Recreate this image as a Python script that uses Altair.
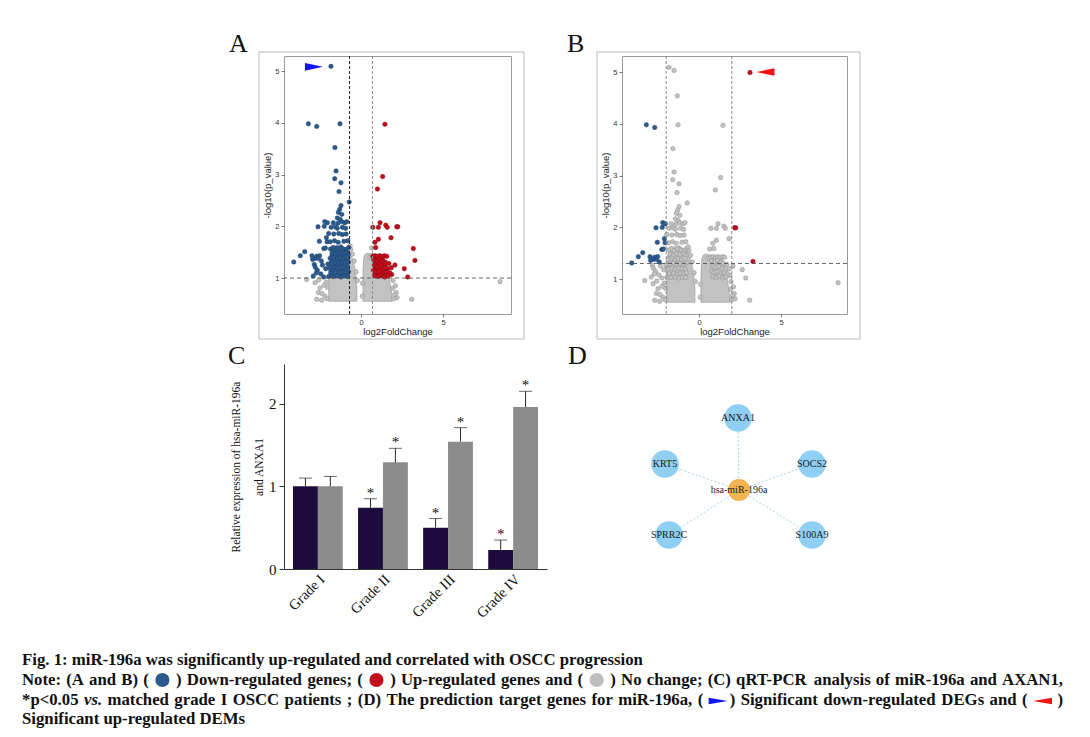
import altair as alt
import pandas as pd

SERIF = "Liberation Serif"
SANS = "Liberation Sans"

# ---------------- Panels A/B: volcano plot data (log2FC, -log10 p) ----------------
volcano_points = [
    (-1.83, 5.09), (-3.21, 3.98), (-2.70, 3.93), (-1.28, 3.98), (-1.59, 3.52), (-1.52, 3.07),
    (-1.60, 2.92), (-1.22, 2.84), (-1.34, 2.67), (-0.72, 2.47),
    (-1.22, 2.40), (-1.30, 2.33), (-1.38, 2.27), (-1.17, 2.23), (-1.44, 2.16), (-1.26, 2.13),
    (-2.21, 2.09), (-2.05, 2.07), (-1.69, 2.07), (-1.40, 2.06), (-1.18, 2.09), (-0.99, 2.07), (-0.86, 2.09),
    (-2.62, 1.99), (-2.24, 2.00), (-1.82, 1.98), (-1.56, 1.99), (-1.45, 1.96), (-1.13, 1.98), (-0.94, 1.96),
    (-2.11, 1.78), (-1.97, 1.86), (-1.66, 1.85), (-1.36, 1.86), (-1.14, 1.84), (-0.91, 1.85),
    (-2.54, 1.71), (-2.07, 1.70), (-1.88, 1.70), (-1.62, 1.72), (-1.39, 1.69), (-1.04, 1.71), (-0.80, 1.72),
    (-2.27, 1.57), (-2.17, 1.58), (-1.86, 1.56), (-1.70, 1.59), (-1.50, 1.55), (-1.30, 1.58), (-1.10, 1.56),
    (-0.90, 1.55), (-0.76, 1.59),
    (-3.43, 1.51), (-3.70, 1.43), (-2.99, 1.43), (-2.70, 1.42), (-2.52, 1.43), (-2.79, 1.38), (-2.62, 1.38),
    (-2.95, 1.36), (-2.42, 1.33), (-4.10, 1.31),
    (-2.85, 1.26), (-2.79, 1.21), (-2.66, 1.15), (-2.72, 1.10), (-2.91, 1.04), (-2.27, 1.02), (-2.35, 1.25),
    (-2.15, 1.18), (-2.45, 1.08), (-2.02, 1.27),
    (-1.75, 1.48), (-1.56, 1.46), (-1.37, 1.49), (-1.16, 1.47), (-0.96, 1.49), (-0.79, 1.46),
    (-1.88, 1.38), (-1.66, 1.40), (-1.46, 1.37), (-1.26, 1.39), (-1.06, 1.38), (-0.86, 1.40),
    (-1.77, 1.29), (-1.55, 1.31), (-1.35, 1.28), (-1.15, 1.30), (-0.95, 1.29), (-0.77, 1.31),
    (-1.92, 1.20), (-1.66, 1.21), (-1.45, 1.19), (-1.24, 1.21), (-1.04, 1.20), (-0.84, 1.19),
    (-1.81, 1.10), (-1.56, 1.11), (-1.34, 1.09), (-1.14, 1.11), (-0.94, 1.10), (-0.76, 1.12),
    (-1.97, 1.03), (-1.70, 1.03), (-1.45, 1.04), (-1.22, 1.02), (-1.02, 1.04), (-0.82, 1.03),
    (-3.31, 0.97), (-2.80, 0.91), (-2.60, 0.72), (-2.50, 0.81), (-2.70, 0.59), (-2.40, 0.57), (-2.20, 0.65),
    (-2.05, 0.82), (-2.12, 0.92), (-2.38, 0.70), (-2.58, 0.96), (-2.25, 0.86), (-2.08, 0.60),
    (-0.62, 1.55), (-0.52, 1.46), (-0.41, 1.33), (-0.66, 1.62), (-0.30, 1.12), (-0.22, 0.95),
    (1.46, 3.97), (1.32, 2.96), (1.00, 2.72),
    (1.16, 2.07), (0.72, 1.98), (1.06, 1.98), (1.51, 2.02), (1.60, 1.98), (2.18, 1.99), (2.24, 1.99),
    (1.83, 1.78), (1.06, 1.75), (0.85, 1.69), (0.90, 1.59), (3.29, 1.34), (2.64, 1.18), (2.85, 1.02),
    (1.87, 1.07), (2.07, 1.25), (0.65, 1.58), (0.55, 1.40),
    (0.72, 1.42), (0.85, 1.43), (1.00, 1.42), (1.14, 1.43), (1.28, 1.42), (1.43, 1.43), (1.57, 1.42),
    (0.78, 1.35), (0.95, 1.33), (1.12, 1.36), (1.30, 1.32), (1.50, 1.30), (1.70, 1.28),
    (0.82, 1.25), (1.00, 1.22), (1.20, 1.24), (1.42, 1.20), (1.62, 1.18), (1.85, 1.20),
    (0.76, 1.15), (0.92, 1.12), (1.10, 1.14), (1.30, 1.10), (1.55, 1.12), (1.75, 1.10),
    (0.85, 1.05), (1.05, 1.03), (1.25, 1.06), (1.45, 1.02), (1.65, 1.04),
    (3.09, 0.59), (8.48, 0.93), (2.15, 0.72), (2.10, 0.85), (1.95, 0.95), (2.20, 0.62), (2.00, 0.60),
    (2.05, 0.68), (1.92, 0.80), (0.10, 0.90), (0.08, 0.65),
]
only_in_A = [(3.19, 1.57)]
only_in_B = [(-1.52, 5.03), (-1.32, 4.54), (3.11, 4.99)]

# dense (non-resolvable) point clouds: outline (log2FC, top of cloud)
core_left = [(-1.97, 1.15), (-1.90, 1.45), (-1.80, 1.55), (-1.65, 1.60), (-1.50, 1.63), (-1.35, 1.62),
             (-1.20, 1.65), (-1.05, 1.60), (-0.90, 1.58), (-0.70, 1.50), (-0.55, 1.40), (-0.42, 1.25),
             (-0.32, 1.05), (-0.25, 0.80)]
core_right = [(0.12, 1.10), (0.18, 1.40), (0.30, 1.47), (0.50, 1.48), (0.70, 1.46), (0.90, 1.45),
              (1.10, 1.42), (1.30, 1.40), (1.50, 1.35), (1.62, 1.20), (1.72, 1.00), (1.82, 0.80),
              (1.90, 0.62)]
core_floor = 0.55

# thresholds
A_fc, A_p = 0.7, 1.0
B_fc, B_p = 2.0, 1.3
A_arrow = (-2.87, 5.08)
B_arrow = (4.05, 5.00)

# ---------------- Panel C: qRT-PCR ----------------
grades = ["Grade I", "Grade II", "Grade III", "Grade IV"]
mir196a_mean = [1.00, 0.74, 0.50, 0.23]
mir196a_sd = [0.10, 0.11, 0.11, 0.12]
anxa1_mean = [1.00, 1.29, 1.54, 1.96]
anxa1_sd = [0.12, 0.17, 0.17, 0.19]
signif = ["", "*", "*", "*"]
series = ["hsa-miR-196a", "ANXA1"]

# ---------------- Panel D: network ----------------
net_nodes = ["hsa-miR-196a", "ANXA1", "SOCS2", "S100A9", "SPRR2C", "KRT5"]
net_kind = ["miRNA", "gene", "gene", "gene", "gene", "gene"]
net_x = [0, -1, 73, 73, -70, -74]
net_y = [0, 72, 26, -45, -45, 26]

# ---------------- Caption text ----------------
cap1 = "Fig. 1: miR-196a was significantly up-regulated and correlated with OSCC progression"
cap2 = "Note: (A and B) ( [blue] ) Down-regulated genes; ( [red] ) Up-regulated genes and ( [grey] ) No change; (C) qRT-PCR analysis of miR-196a and AXAN1,"
cap3 = "*p<0.05 _vs._ matched grade I OSCC patients ; (D) The prediction target genes for miR-196a, ( [right]+) Significant down-regulated DEGs and ( [left] )"
cap4 = "Significant up-regulated DEMs"

ONE = pd.DataFrame({"k": [0]})
BLUE, RED, GREY = "#2c5a8c", "#c20f1d", "#c2c2c2"
TRI_R = "M-1,-0.42L1,0L-1,0.42Z"
TRI_L = "M1,-0.42L-1,0L1,0.42Z"
CAP_TRI_R = "M-1,-0.35L1,0L-1,0.35Z"
CAP_TRI_L = "M1,-0.35L-1,0L1,0.35Z"


def volcano(points, fc, pcut, xdom, ydom, w, h, vleft, vright, hcol, arrow, arrow_path, arrow_color, letter):
    cls = []
    for x, y in points:
        if x < -fc and y > pcut:
            cls.append("down")
        elif x > fc and y > pcut:
            cls.append("up")
        else:
            cls.append("none")
    df = pd.DataFrame({"lfc": [p[0] for p in points], "nlp": [p[1] for p in points], "cls": cls})
    df["ord"] = (df["cls"] != "none").astype(int)
    df = df.sort_values("ord", kind="stable")

    xsc = alt.Scale(domain=xdom, nice=False, zero=False)
    ysc = alt.Scale(domain=ydom, nice=False, zero=False)
    xax = alt.Axis(values=[0, 5], title="log2FoldChange", grid=False, domain=False, tickSize=3,
                   tickColor="#555", tickWidth=0.8, labelFont=SANS, labelFontSize=7.5, labelColor="#333",
                   labelPadding=1, titleFont=SANS, titleFontSize=9.5, titleFontWeight="normal",
                   titleColor="#222", titlePadding=1)
    yax = alt.Axis(values=[1, 2, 3, 4, 5], title="-log10(p_value)", grid=False, domain=False, tickSize=3,
                   tickColor="#555", tickWidth=0.8, labelFont=SANS, labelFontSize=7.5, labelColor="#333",
                   labelPadding=2, titleFont=SANS, titleFontSize=9.5, titleFontWeight="normal",
                   titleColor="#222", titlePadding=2)
    X = alt.X("lfc:Q", scale=xsc, axis=xax)
    Y = alt.Y("nlp:Q", scale=ysc, axis=yax)

    layers = []
    layers.append(alt.Chart(ONE).mark_rect(fillOpacity=0, stroke="#b9b9b9", strokeWidth=1).encode(
        x=alt.value(-25), x2=alt.value(w + 13), y=alt.value(-4), y2=alt.value(h + 25)))

    for core in (core_left, core_right):
        cdf = pd.DataFrame({"lfc": [c[0] for c in core], "nlp": [c[1] for c in core]})
        cdf["nlp2"] = core_floor
        layers.append(alt.Chart(cdf).mark_area(color=GREY, stroke="#9c9c9c", strokeWidth=0.7,
                                               interpolate="monotone", opacity=1).encode(
            x=X, y=Y, y2="nlp2:Q"))

    ov_l = [c for c in core_left if c[0] <= -fc and c[1] > pcut]
    ov_r = [c for c in core_right if c[0] >= fc and c[1] > pcut]
    for ov, col in ((ov_l, BLUE), (ov_r, RED)):
        if ov:
            odf = pd.DataFrame({"lfc": [c[0] for c in ov], "nlp": [c[1] for c in ov]})
            odf["nlp2"] = pcut
            layers.append(alt.Chart(odf).mark_area(color=col, interpolate="monotone", opacity=1).encode(
                x=X, y=Y, y2="nlp2:Q"))

    layers.append(alt.Chart(df).mark_circle(size=20, strokeWidth=0.5, opacity=1).encode(
        x=X, y=Y,
        fill=alt.Fill("cls:N", scale=alt.Scale(domain=["none", "down", "up"], range=[GREY, BLUE, RED]),
                      legend=None),
        stroke=alt.Stroke("cls:N", scale=alt.Scale(domain=["none", "down", "up"],
                                                   range=["#8e8e8e", "#1f4470", "#8a0a14"]), legend=None),
    ))

    layers.append(alt.Chart(pd.DataFrame({"lfc": [-fc]})).mark_rule(
        color=vleft, strokeDash=[3, 2], strokeWidth=1).encode(x=X))
    layers.append(alt.Chart(pd.DataFrame({"lfc": [fc]})).mark_rule(
        color=vright, strokeDash=[3, 2], strokeWidth=1).encode(x=X))
    layers.append(alt.Chart(pd.DataFrame({"nlp": [pcut]})).mark_rule(
        color=hcol, strokeDash=[4, 3], strokeWidth=0.9).encode(y=Y))

    layers.append(alt.Chart(pd.DataFrame({"lfc": [arrow[0]], "nlp": [arrow[1]]})).mark_point(
        shape=arrow_path, filled=True, fill=arrow_color, strokeWidth=0, size=324, opacity=1).encode(x=X, y=Y))

    layers.append(alt.Chart(ONE).mark_text(text=letter, font=SERIF, fontSize=26, align="left",
                                           baseline="alphabetic", color="#111").encode(
        x=alt.value(-55), y=alt.value(-4)))

    return alt.layer(*layers).properties(width=w, height=h,
                                         view=alt.ViewBackground(stroke="#9a9a9a", strokeWidth=1))


panelA = volcano(volcano_points + only_in_A, A_fc, A_p, [-4.695, 9.146], [0.305, 5.29], 227, 258,
                 "#222222", "#8a8a8a", "#555555", A_arrow, TRI_R, "#1414ee", "A")
panelB = volcano(volcano_points + only_in_B, B_fc, B_p, [-4.695, 9.024], [0.324, 5.31], 225, 258,
                 "#8a8a8a", "#8a8a8a", "#555555", B_arrow, TRI_L, "#f01212", "B")

# ---------------- Panel C chart ----------------
rows = []
for i, g in enumerate(grades):
    rows.append({"grade": g, "series": series[0], "mean": mir196a_mean[i],
                 "top": mir196a_mean[i] + mir196a_sd[i], "star": signif[i]})
    rows.append({"grade": g, "series": series[1], "mean": anxa1_mean[i],
                 "top": anxa1_mean[i] + anxa1_sd[i], "star": signif[i]})
cdf = pd.DataFrame(rows)

Xc = alt.X("grade:N", sort=grades, scale=alt.Scale(paddingInner=0.235, paddingOuter=0.138),
           axis=alt.Axis(title=None, labelAngle=-45, ticks=False, domain=True, domainColor="#333",
                         labelFont=SERIF, labelFontSize=14.5, labelColor="#111", labelPadding=3))
XOc = alt.XOffset("series:N", sort=series, scale=alt.Scale(paddingInner=0, paddingOuter=0))
ysc_c = alt.Scale(domain=[0, 2.48], nice=False)
Yc = alt.Y("mean:Q", scale=ysc_c,
           axis=alt.Axis(values=[0, 1, 2], format="d",
                         title=["Relative expression of hsa-miR-196a", "and ANXA1"],
                         grid=False, domain=True, domainColor="#333", tickColor="#333", tickSize=5,
                         labelFont=SERIF, labelFontSize=15, labelColor="#111", labelPadding=3,
                         titleFont=SERIF, titleFontSize=11.5, titleFontWeight="normal", titleColor="#111",
                         titleLineHeight=23, titlePadding=4))

bars = alt.Chart(cdf).mark_bar().encode(
    x=Xc, xOffset=XOc, y=Yc,
    color=alt.Color("series:N", scale=alt.Scale(domain=series, range=["#1c0b3c", "#8c8c8c"]), legend=None))
errs = alt.Chart(cdf).mark_rule(color="#2a2a2a", strokeWidth=1).encode(x=Xc, xOffset=XOc, y=Yc, y2="top:Q")
caps = alt.Chart(cdf).mark_tick(color="#2a2a2a", thickness=1, size=13, orient="horizontal").encode(
    x=Xc, xOffset=XOc, y=alt.Y("top:Q", scale=ysc_c))
stars = alt.Chart(cdf).mark_text(font=SERIF, fontSize=15, baseline="alphabetic", dy=-1, color="#111").encode(
    x=Xc, xOffset=XOc, y=alt.Y("top:Q", scale=ysc_c), text="star:N")
letterC = alt.Chart(ONE).mark_text(text="C", font=SERIF, fontSize=26, align="left", baseline="alphabetic",
                                   color="#111").encode(x=alt.value(-56), y=alt.value(0))

# ---------------- Caption layout (justified, Times-Bold metrics) ----------------
TB = {" ": 250, "!": 333, "(": 333, ")": 333, "*": 500, "+": 570, ",": 250, "-": 333, ".": 250, "/": 278,
      ":": 333, ";": 333, "<": 570, "=": 570, ">": 570, "?": 500,
      "A": 722, "B": 667, "C": 722, "D": 722, "E": 667, "F": 611, "G": 778, "H": 778, "I": 389, "J": 500,
      "K": 778, "L": 667, "M": 944, "N": 722, "O": 778, "P": 611, "Q": 778, "R": 722, "S": 556, "T": 667,
      "U": 722, "V": 722, "W": 1000, "X": 722, "Y": 722, "Z": 667,
      "a": 500, "b": 556, "c": 444, "d": 556, "e": 444, "f": 333, "g": 500, "h": 556, "i": 278, "j": 333,
      "k": 556, "l": 278, "m": 833, "n": 556, "o": 500, "p": 556, "q": 556, "r": 444, "s": 389, "t": 333,
      "u": 556, "v": 500, "w": 722, "x": 500, "y": 500, "z": 444}
TBI = dict(TB, v=444, s=389)


def em_width(s, italic=False):
    table = TBI if italic else TB
    return sum(table.get(ch, 500) for ch in s) / 1000.0


CAP_LEFT_REL = -262            # caption left edge relative to panel C plot (page x = 22)
CAP_WIDTH = 1041               # justified line width (22 .. 1063)
CAP_FS = round(622 / em_width(cap1), 2)   # line 1 spans 22..644 in the figure
BASELINES = [301, 321, 341, 360]          # relative to panel C plot top (page y 664, 684, 704, 723)
GLYPH_W = {"[blue]": 17, "[red]": 17, "[grey]": 17, "[right]": 19, "[left]": 19}
GLYPH_STYLE = {"[blue]": ("dot", BLUE), "[red]": ("dot", RED), "[grey]": ("dot", "#bdbdbd"),
               "[right]": ("tri", CAP_TRI_R, "#1414ee"), "[left]": ("tri", CAP_TRI_L, "#f01212")}


def tokens_of(line):
    out = []
    for w in line.split(" "):
        glue_next = False
        if w.endswith("+)"):
            out.append((w[:-2], False))
            out.append((")", True))
            continue
        out.append((w, False))
    return out


def caption_layers(line, baseline, justify):
    toks = tokens_of(line)
    widths = []
    for w, _ in toks:
        if w in GLYPH_W:
            widths.append(GLYPH_W[w])
        elif w.startswith("_") and w.endswith("_"):
            widths.append(em_width(w[1:-1], True) * CAP_FS)
        else:
            widths.append(em_width(w) * CAP_FS)
    n_gaps = sum(1 for i, (w, g) in enumerate(toks) if i > 0 and not g)
    glue_gap = 2
    n_glue = sum(1 for i, (w, g) in enumerate(toks) if i > 0 and g)
    if justify:
        gap = (CAP_WIDTH - sum(widths) - n_glue * glue_gap) / n_gaps
    else:
        gap = 0.25 * CAP_FS
    out = []
    x = 0.0
    for i, ((w, g), wd) in enumerate(zip(toks, widths)):
        if i > 0:
            x += glue_gap if g else gap
        px = CAP_LEFT_REL + x
        if w in GLYPH_STYLE:
            st = GLYPH_STYLE[w]
            if st[0] == "dot":
                out.append(alt.Chart(ONE).mark_circle(size=200, color=st[1], opacity=1).encode(
                    x=alt.value(px + wd / 2), y=alt.value(baseline - 5)))
            else:
                out.append(alt.Chart(ONE).mark_point(shape=st[1], filled=True, fill=st[2], strokeWidth=0,
                                                     size=wd * wd, opacity=1).encode(
                    x=alt.value(px + wd / 2), y=alt.value(baseline - 4)))
        else:
            italic = w.startswith("_") and w.endswith("_")
            txt = w[1:-1] if italic else w
            out.append(alt.Chart(ONE).mark_text(text=txt, font=SERIF, fontSize=CAP_FS, fontWeight="bold",
                                                fontStyle="italic" if italic else "normal", align="left",
                                                baseline="alphabetic", color="#111").encode(
                x=alt.value(px), y=alt.value(baseline)))
        x += wd
    return out


def caption_plain(line, baseline):
    return [alt.Chart(ONE).mark_text(text=line, font=SERIF, fontSize=CAP_FS, fontWeight="bold", align="left",
                                     baseline="alphabetic", color="#111").encode(
        x=alt.value(CAP_LEFT_REL), y=alt.value(baseline))]


cap_layers = (caption_plain(cap1, BASELINES[0]) + caption_layers(cap2, BASELINES[1], True)
              + caption_layers(cap3, BASELINES[2], True) + caption_plain(cap4, BASELINES[3]))

panelC = alt.layer(bars, errs, caps, stars, letterC, *cap_layers).properties(width=263, height=205)

# ---------------- Panel D chart ----------------
ndf = pd.DataFrame({"name": net_nodes, "kind": net_kind, "nx": net_x, "ny": net_y})
edf = pd.DataFrame({"nx": [net_x[0]] * 5, "ny": [net_y[0]] * 5, "nx2": net_x[1:], "ny2": net_y[1:]})
xs_d = alt.Scale(domain=[-117, 108], nice=False, zero=False)
ys_d = alt.Scale(domain=[-79, 126], nice=False, zero=False)
Xd = alt.X("nx:Q", scale=xs_d, axis=None)
Yd = alt.Y("ny:Q", scale=ys_d, axis=None)
edges = alt.Chart(edf).mark_rule(color="#9fd4ee", strokeDash=[2, 2], strokeWidth=1).encode(
    x=Xd, y=Yd, x2="nx2:Q", y2="ny2:Q")
genes = alt.Chart(ndf).transform_filter(alt.datum.kind == "gene").mark_circle(
    size=760, color="#8ecff3", opacity=1).encode(x=Xd, y=Yd)
mirna = alt.Chart(ndf).transform_filter(alt.datum.kind == "miRNA").mark_circle(
    size=490, color="#f2b451", opacity=1).encode(x=Xd, y=Yd)
nlabels = alt.Chart(ndf).mark_text(font=SERIF, fontSize=10, color="#1a1a1a").encode(x=Xd, y=Yd, text="name:N")
letterD = alt.Chart(ONE).mark_text(text="D", font=SERIF, fontSize=26, align="left", baseline="alphabetic",
                                   color="#111").encode(x=alt.value(-54), y=alt.value(0))
panelD = alt.layer(edges, genes, mirna, nlabels, letterD).properties(width=225, height=205)


def spacer(w, h):
    return alt.Chart(ONE).mark_point(opacity=0).properties(width=w, height=h)


chart = alt.concat(
    spacer(262, 258), panelA, spacer(75, 258), panelB,
    spacer(262, 205), panelC, spacer(75, 205), panelD,
    columns=4, spacing={"row": 50, "column": 0}, bounds="flush",
).properties(
    padding={"left": 14, "top": 22, "right": 5, "bottom": 5}, background="white"
).configure_view(strokeWidth=0)

chart.save("out.html", embed_options={"renderer": "svg", "actions": False})
